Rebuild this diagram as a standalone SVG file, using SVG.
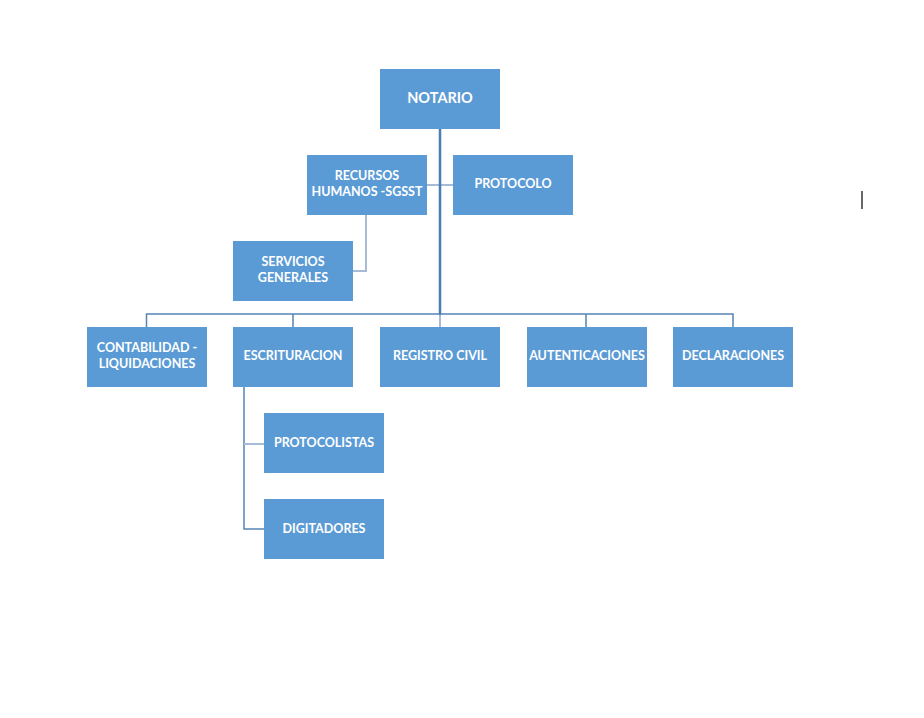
<svg xmlns="http://www.w3.org/2000/svg" width="924" height="718" viewBox="0 0 924 718">
<style>
.box{fill:#5B9BD5;}
.t{font-family:Lato,"Liberation Sans",sans-serif;font-weight:bold;font-size:12.5px;fill:#FFFFFF;text-anchor:middle;}
.main{stroke:#4A7EB3;stroke-width:2.5;fill:none;}
.ln{stroke:#5585B5;stroke-width:1.5;fill:none;}
.lt{stroke:#A6BCD6;stroke-width:2;fill:none;}
</style>
<rect width="924" height="718" fill="#FFFFFF"/>
<g id="connectors">
<line class="lt" x1="427" y1="185" x2="453" y2="185"/>
<polyline class="lt" points="366,215 366,271 353,271"/>
<line class="main" x1="440" y1="129" x2="440" y2="315"/>
<line class="lt" x1="440" y1="315" x2="440" y2="327"/>
<polyline class="ln" points="146.5,327 146.5,314 733,314 733,327"/>
<line class="ln" x1="293" y1="314" x2="293" y2="327"/>
<line class="ln" x1="586" y1="314" x2="586" y2="327"/>
<polyline class="ln" points="244,387 244,529 264,529"/>
<line class="lt" x1="244" y1="444" x2="264" y2="444"/>
</g>
<g id="notario"><rect class="box" x="380" y="69" width="120" height="60"/><text class="t" x="440" y="103" style="font-size:14.5px">NOTARIO</text></g>
<g id="recursos"><rect class="box" x="307" y="155" width="120" height="60"/><text class="t" x="367" y="180">RECURSOS</text><text class="t" x="367" y="196">HUMANOS -SGSST</text></g>
<g id="protocolo"><rect class="box" x="453" y="155" width="120" height="60"/><text class="t" x="513" y="188">PROTOCOLO</text></g>
<g id="servicios"><rect class="box" x="233" y="241" width="120" height="60"/><text class="t" x="293" y="266">SERVICIOS</text><text class="t" x="293" y="282">GENERALES</text></g>
<g id="contabilidad"><rect class="box" x="87" y="327" width="120" height="60"/><text class="t" x="147" y="352">CONTABILIDAD -</text><text class="t" x="147" y="368">LIQUIDACIONES</text></g>
<g id="escrituracion"><rect class="box" x="233" y="327" width="120" height="60"/><text class="t" x="293" y="360">ESCRITURACION</text></g>
<g id="registro"><rect class="box" x="380" y="327" width="120" height="60"/><text class="t" x="440" y="360">REGISTRO CIVIL</text></g>
<g id="autenticaciones"><rect class="box" x="527" y="327" width="120" height="60"/><text class="t" x="587" y="360">AUTENTICACIONES</text></g>
<g id="declaraciones"><rect class="box" x="673" y="327" width="120" height="60"/><text class="t" x="733" y="360">DECLARACIONES</text></g>
<g id="protocolistas"><rect class="box" x="264" y="413" width="120" height="60"/><text class="t" x="324" y="447">PROTOCOLISTAS</text></g>
<g id="digitadores"><rect class="box" x="264" y="499" width="120" height="60"/><text class="t" x="324" y="533">DIGITADORES</text></g>
<line x1="862" y1="191" x2="862" y2="209" stroke="#000000" stroke-width="1.2"/>
</svg>
